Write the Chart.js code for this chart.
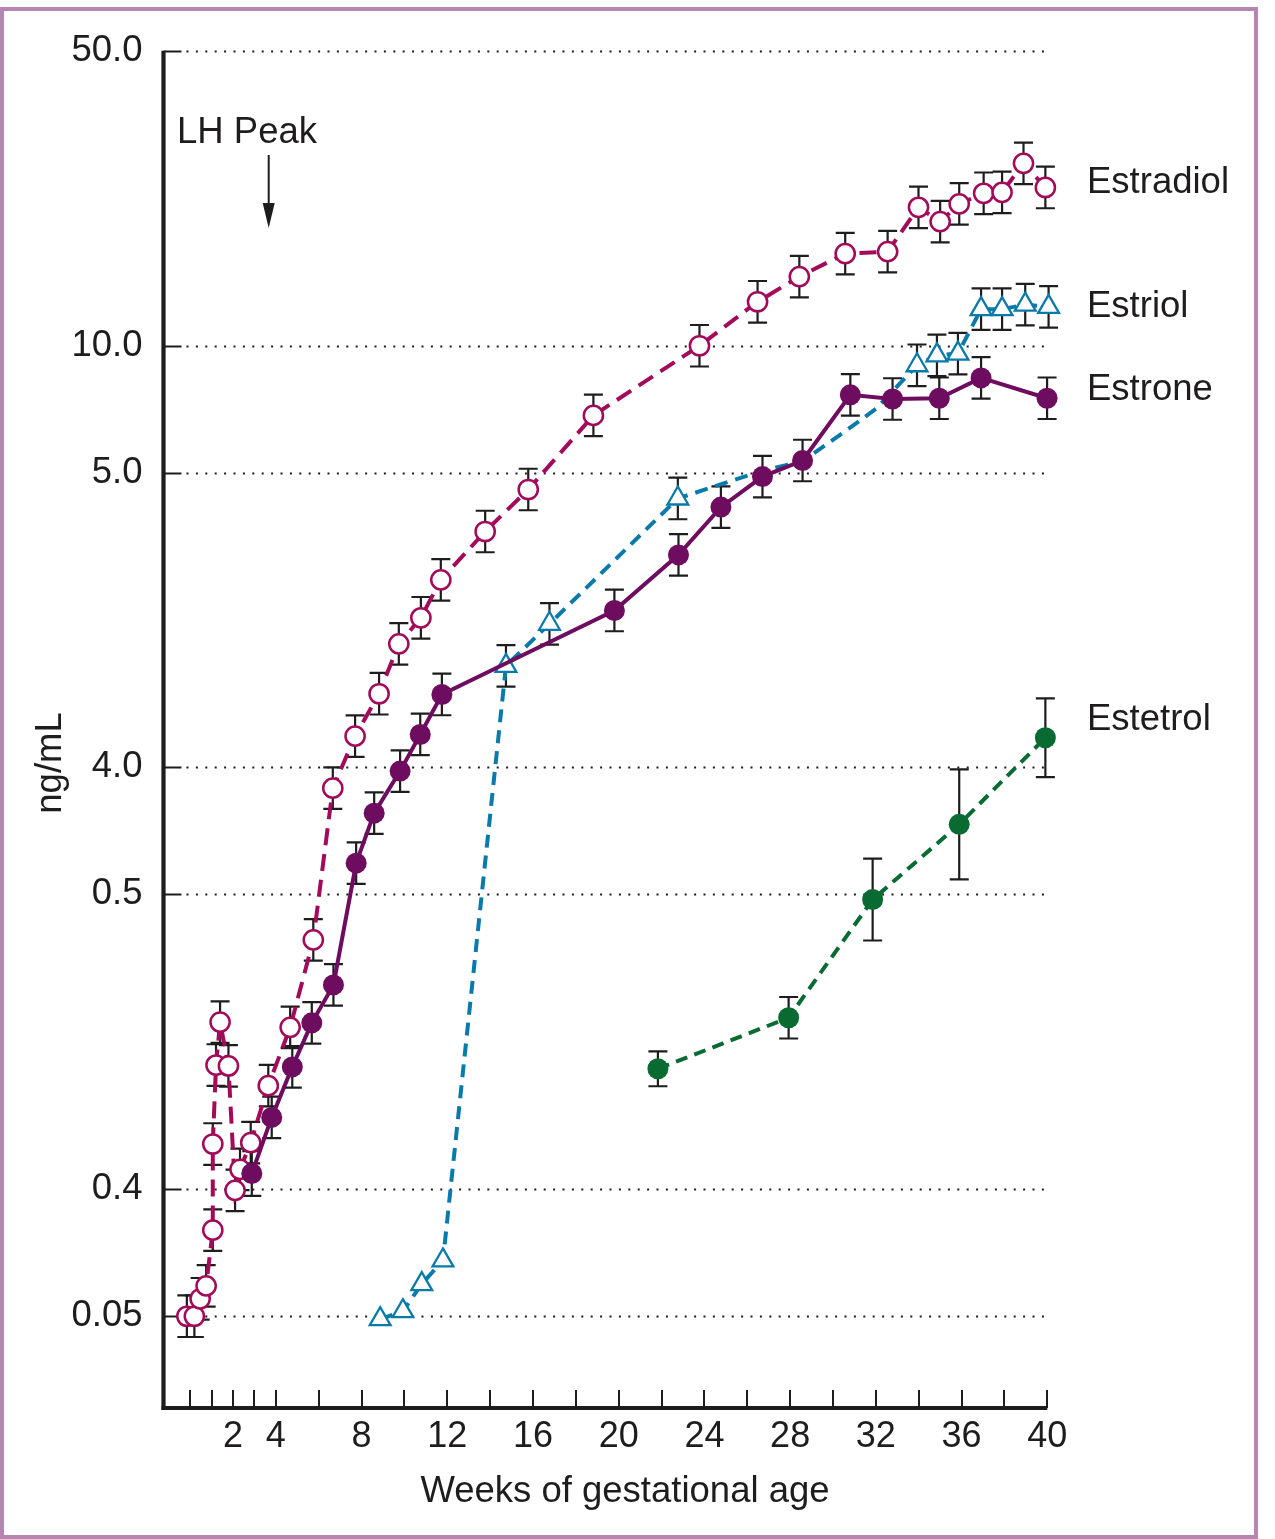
<!DOCTYPE html>
<html>
<head>
<meta charset="utf-8">
<script src="https://cdn.jsdelivr.net/npm/chart.js@4.4.1/dist/chart.umd.min.js"></script>
<style>
  html, body { margin: 0; padding: 0; background: #fff; }
  #wrap { position: relative; width: 1275px; height: 1539px; }
  #c { position: absolute; left: 0; top: 0; }
  #frame { position: absolute; left: 0; top: 7px; width: 1258px; height: 1532px; border: 4px solid #B586B2; box-sizing: border-box; pointer-events: none; }
</style>
</head>
<body>
<div id="wrap">
  <canvas id="c" width="1275" height="1539"></canvas>
  <div id="frame"></div>
</div>
<script>
// ---------- data (weeks of gestational age, ng/mL) ----------
const xTickWeeks  = [0, 1, 2, 3, 4, 6, 8, 10, 12, 14, 16, 18, 20, 22, 24, 26, 28, 30, 32, 34, 36, 38, 40];
const xLabelWeeks = [2, 4, 8, 12, 16, 20, 24, 28, 32, 36, 40];
const yTickValues = [0.05, 0.1, 0.5, 1, 5, 10, 50];
const yTickLabels = ['0.05', '0.4', '0.5', '4.0', '5.0', '10.0', '50.0'];

const estradiolWeeks  = [-0.15, 0.2, 0.47, 0.75, 1.06, 1.06, 1.21, 1.40, 1.79, 2.10, 2.33, 2.83, 3.65, 4.67, 5.75, 6.66, 7.70, 8.82, 9.74, 10.77, 11.70, 13.77, 15.78, 18.82, 23.77, 26.48, 28.43, 30.57, 32.55, 33.99, 35.0, 35.89, 37.03, 37.89, 38.89, 39.91];
const estradiolValues = [0.050, 0.050, 0.055, 0.059, 0.080, 0.128, 0.197, 0.249, 0.196, 0.0994, 0.1115, 0.129, 0.176, 0.242, 0.390, 0.893, 1.186, 1.495, 1.963, 2.263, 2.784, 3.624, 4.558, 6.83, 9.99, 12.7, 14.57, 16.52, 16.7, 21.27, 19.67, 21.67, 22.96, 23.08, 27.04, 23.7];
const estradiolSE     = [1.12, 1.12, 1.12, 1.12, 1.12, 1.12, 1.12, 1.12, 1.12, 1.12, 1.12, 1.12, 1.12, 1.12, 1.12, 1.12, 1.12, 1.12, 1.12, 1.12, 1.12, 1.12, 1.12, 1.12, 1.12, 1.12, 1.12, 1.12, 1.12, 1.12, 1.12, 1.12, 1.12, 1.12, 1.12, 1.12];

const estroneWeeks  = [2.88, 3.81, 4.77, 5.68, 6.69, 7.75, 8.59, 9.80, 10.74, 11.75, 19.80, 22.79, 24.77, 26.71, 28.58, 30.81, 32.78, 34.96, 36.91, 39.99];
const estroneValues = [0.109, 0.148, 0.195, 0.248, 0.305, 0.593, 0.779, 0.980, 1.197, 1.489, 2.355, 3.19, 4.14, 4.89, 5.34, 7.64, 7.47, 7.50, 8.38, 7.50];
const estroneSE     = [1.13, 1.12, 1.12, 1.12, 1.12, 1.12, 1.12, 1.12, 1.12, 1.12, 1.12, 1.12, 1.12, 1.12, 1.12, 1.12, 1.12, 1.12, 1.12, 1.12];

const estriolWeeks  = [8.87, 9.93, 10.81, 11.80, 14.74, 16.77, 22.76, 26.70, 28.56, 30.80, 32.02, 33.92, 34.85, 35.83, 36.91, 37.89, 38.97, 40.06];
const estriolValues = [0.0492, 0.0514, 0.0596, 0.0678, 1.74, 2.19, 4.34, 5.05, 5.31, 6.39, 7.09, 8.98, 9.48, 9.57, 12.2, 12.2, 12.5, 12.35];
const estriolShown  = [1, 1, 1, 1, 1, 1, 1, 0, 0, 0, 0, 1, 1, 1, 1, 1, 1, 1];
const estriolSE     = [null, null, null, null, 1.12, 1.12, 1.12, null, null, null, null, 1.12, 1.12, 1.12, 1.12, 1.12, 1.12, 1.12];

const estetrolWeeks  = [21.83, 27.93, 31.85, 35.89, 39.91];
const estetrolValues = [0.193, 0.255, 0.486, 0.733, 1.176];
const estetrolSE     = [1.10, 1.12, 1.25, 1.35, 1.24];

const seriesNames = ['Estradiol', 'Estriol', 'Estrone', 'Estetrol'];

// ---------- styles ----------
const C_E2 = '#A30A5A';
const C_E1 = '#6E0C60';
const C_E3 = '#0A7AAA';
const C_E4 = '#0A6B32';
const INK  = '#1e1c1d';
const FONT = '"Liberation Sans", Arial, Helvetica, sans-serif';

const pts = (xs, ys) => xs.map((w, i) => ({ x: w, y: ys[i] }));

const datasets = [
  { label: 'Estetrol', data: pts(estetrolWeeks, estetrolValues), err: estetrolSE,
    borderColor: C_E4, backgroundColor: C_E4, borderWidth: 4, borderDash: [12, 7.5],
    pointStyle: 'circle', pointRadius: 10.5, pointBorderWidth: 0, pointBackgroundColor: C_E4 },
  { label: 'Estrone', data: pts(estroneWeeks, estroneValues), err: estroneSE,
    borderColor: C_E1, backgroundColor: C_E1, borderWidth: 4,
    pointStyle: 'circle', pointRadius: 10.5, pointBorderWidth: 0, pointBackgroundColor: C_E1 },
  { label: 'Estradiol', data: pts(estradiolWeeks, estradiolValues), err: estradiolSE,
    borderColor: C_E2, backgroundColor: '#fff', borderWidth: 4, borderDash: [17, 9],
    pointStyle: 'circle', pointRadius: 9.6, pointBorderWidth: 2.5, pointBorderColor: C_E2, pointBackgroundColor: '#fff' },
  { label: 'Estriol', data: pts(estriolWeeks, estriolValues), err: estriolSE,
    borderColor: C_E3, backgroundColor: '#fff', borderWidth: 4, borderDash: [13, 8],
    pointStyle: 'triangle',
    pointRadius: (ctx) => estriolShown[ctx.dataIndex] ? 12 : 0,
    pointBorderWidth: 2.3, pointBorderColor: C_E3, pointBackgroundColor: '#fff' }
];
datasets.forEach(d => { d.tension = 0; d.fill = false; d.clip = false; d.borderCapStyle = 'butt'; });

const decor = {
  id: 'decor',
  beforeDatasetsDraw(chart) {
    const { ctx, chartArea: a, scales: { x, y } } = chart;
    ctx.save();
    // horizontal grid lines: short solid tick + dotted line
    yTickValues.forEach(v => {
      const py = Math.round(y.getPixelForValue(v)) + 0.5;
      ctx.strokeStyle = INK; ctx.setLineDash([]); ctx.lineWidth = 2;
      ctx.beginPath(); ctx.moveTo(a.left, py); ctx.lineTo(a.left + 18, py); ctx.stroke();
      ctx.lineWidth = 2; ctx.setLineDash([2, 7.4]);
      ctx.beginPath(); ctx.moveTo(a.left + 23, py); ctx.lineTo(a.right, py); ctx.stroke();
    });
    ctx.setLineDash([]);
    // error bars
    ctx.strokeStyle = INK; ctx.lineWidth = 2.2;
    chart.data.datasets.forEach(ds => {
      if (!ds.err) return;
      ds.data.forEach((p, j) => {
        const f = ds.err[j]; if (!f) return;
        const px = x.getPixelForValue(p.x);
        const yt = y.getPixelForValue(p.y * f);
        const yb = y.getPixelForValue(p.y / f);
        ctx.beginPath();
        ctx.moveTo(px, yt); ctx.lineTo(px, yb);
        ctx.moveTo(px - 9.5, yt); ctx.lineTo(px + 9.5, yt);
        ctx.moveTo(px - 9.5, yb); ctx.lineTo(px + 9.5, yb);
        ctx.stroke();
      });
    });
    ctx.restore();
  },
  afterDraw(chart) {
    const { ctx, chartArea: a, scales: { x, y } } = chart;
    ctx.save();
    ctx.strokeStyle = INK; ctx.fillStyle = INK;
    // x tick marks (inward)
    ctx.lineWidth = 2;
    xTickWeeks.forEach(w => {
      const px = Math.round(x.getPixelForValue(w));
      ctx.beginPath(); ctx.moveTo(px, a.bottom); ctx.lineTo(px, a.bottom - 18); ctx.stroke();
    });
    // axes
    ctx.lineWidth = 4.2;
    ctx.beginPath(); ctx.moveTo(a.left, a.top); ctx.lineTo(a.left, a.bottom + 2); ctx.stroke();
    ctx.lineWidth = 4;
    ctx.beginPath(); ctx.moveTo(a.left - 2, a.bottom); ctx.lineTo(a.right, a.bottom); ctx.stroke();

    // texts
    ctx.font = '36.5px ' + FONT;
    ctx.textAlign = 'left'; ctx.textBaseline = 'middle';
    const labelY = [183, 307, 390, 720];
    seriesNames.forEach((n, i) => ctx.fillText(n, 1087, labelY[i]));

    ctx.textBaseline = 'alphabetic';
    ctx.fillText('LH Peak', 177, 143);
    // arrow
    ctx.lineWidth = 2;
    ctx.beginPath(); ctx.moveTo(268.7, 155); ctx.lineTo(268.7, 210); ctx.stroke();
    ctx.beginPath(); ctx.moveTo(262.7, 203); ctx.lineTo(274.7, 203); ctx.lineTo(268.7, 228); ctx.closePath(); ctx.fill();

    // axis titles
    ctx.textAlign = 'center';
    ctx.fillText('Weeks of gestational age', 625, 1502);
    ctx.save();
    ctx.translate(61, 763); ctx.rotate(-Math.PI / 2);
    ctx.textBaseline = 'alphabetic';
    ctx.fillText('ng/mL', 0, 0);
    ctx.restore();
    ctx.restore();
  }
};

new Chart(document.getElementById('c'), {
  type: 'line',
  data: { datasets },
  options: {
    responsive: false,
    devicePixelRatio: 1,
    animation: false,
    layout: { padding: { top: 50.7, right: 227.7, bottom: 0, left: 0 } },
    plugins: { legend: { display: false }, tooltip: { enabled: false } },
    scales: {
      x: {
        type: 'linear', min: -1.24, max: 40,
        afterBuildTicks: s => { s.ticks = xTickWeeks.map(v => ({ value: v })); },
        afterFit: s => { s.height = 1539 - 1408; },
        grid: { display: false, drawTicks: false },
        border: { display: false },
        ticks: {
          autoSkip: false, maxRotation: 0, minRotation: 0, padding: 7,
          color: INK, font: { family: FONT, size: 36 },
          callback: v => xLabelWeeks.includes(v) ? String(v) : ''
        }
      },
      y: {
        type: 'logarithmic', min: 0.0303, max: 50,
        afterBuildTicks: s => { s.ticks = yTickValues.map(v => ({ value: v })); },
        afterFit: s => { s.width = 163.5; },
        grid: { display: false, drawTicks: false },
        border: { display: false },
        ticks: {
          autoSkip: false, padding: 21,
          color: INK, font: { family: FONT, size: 36.5 },
          callback: (v, i) => yTickLabels[i]
        }
      }
    }
  },
  plugins: [decor]
});
</script>
</body>
</html>
